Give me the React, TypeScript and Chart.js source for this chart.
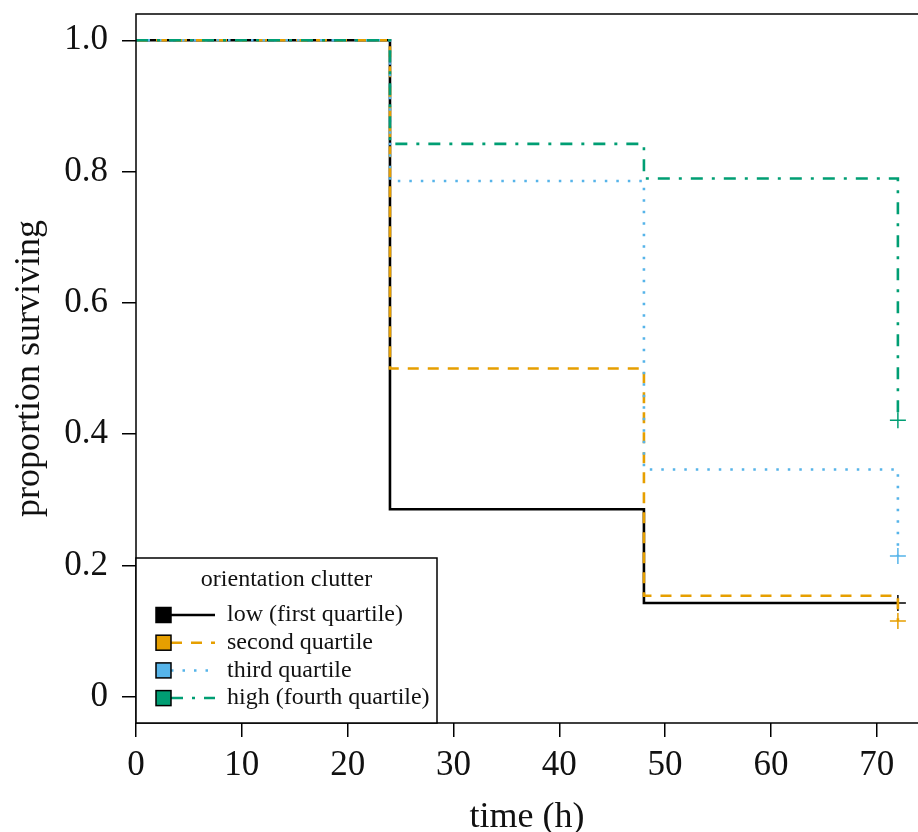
import React, { useEffect, useRef } from "react";
import { Chart, registerables } from "chart.js";

Chart.register(...registerables);

const times = [0, 24, 48, 72];
const lowValues = [1, 0.2857, 0.1429, 0.1429];
const secondValues = [1, 0.5, 0.1538, 0.1154];
const thirdValues = [1, 0.7857, 0.3462, 0.2143];
const highValues = [1, 0.8421, 0.7895, 0.4211];

const seriesLabels = [
  "low (first quartile)",
  "second quartile",
  "third quartile",
  "high (fourth quartile)",
];
const seriesColors = ["#000000", "#E69F00", "#56B4E9", "#009E73"];
const seriesDashes: number[][] = [[], [11, 9], [2.5, 9], [12, 9, 3, 9]];

const legendTitle = "orientation clutter";
const xTicks = [0, 10, 20, 30, 40, 50, 60, 70];
const yTicks = [0, 0.2, 0.4, 0.6, 0.8, 1.0];
const yTickLabels = ["0", "0.2", "0.4", "0.6", "0.8", "1.0"];
const xTitle = "time (h)";
const yTitle = "proportion surviving";

const FONT = "'Liberation Serif', 'Times New Roman', serif";

const frameAndLegend = {
  id: "frameAndLegend",
  afterDraw(chart: any) {
    const { ctx, chartArea } = chart;
    const { left, top, right, bottom } = chartArea;
    ctx.save();
    ctx.strokeStyle = "#000";
    ctx.lineWidth = 1.5;
    ctx.setLineDash([]);
    ctx.beginPath();
    ctx.moveTo(right + 2, top);
    ctx.lineTo(left, top);
    ctx.lineTo(left, bottom);
    ctx.lineTo(right + 2, bottom);
    ctx.stroke();

    // legend box
    const lx = left;
    const lw = 301;
    const lh = 165;
    const ly = bottom - lh;
    ctx.fillStyle = "#fff";
    ctx.fillRect(lx, ly, lw, lh);
    ctx.strokeRect(lx, ly, lw, lh);

    ctx.fillStyle = "#111";
    ctx.font = `24px ${FONT}`;
    ctx.textBaseline = "middle";
    ctx.textAlign = "center";
    ctx.fillText(legendTitle, lx + lw / 2, ly + 22);

    const datasets = chart.data.datasets;
    datasets.forEach((ds: any, i: number) => {
      const cy = ly + 57 + i * 27.7;
      const sx = lx + 20;
      ctx.strokeStyle = ds.borderColor;
      ctx.lineWidth = 2.5;
      ctx.setLineDash(ds.borderDash || []);
      ctx.beginPath();
      ctx.moveTo(sx + 15, cy);
      ctx.lineTo(sx + 59, cy);
      ctx.stroke();
      ctx.setLineDash([]);
      ctx.fillStyle = ds.borderColor;
      ctx.fillRect(sx, cy - 7.5, 15, 15);
      ctx.strokeStyle = "#000";
      ctx.lineWidth = 1.5;
      ctx.strokeRect(sx, cy - 7.5, 15, 15);
      ctx.fillStyle = "#111";
      ctx.textAlign = "left";
      ctx.fillText(ds.label, lx + 91, cy);
    });
    ctx.restore();
  },
};

export default function App() {
  const canvasRef = useRef<HTMLCanvasElement | null>(null);

  useEffect(() => {
    if (!canvasRef.current) return;
    const allValues = [lowValues, secondValues, thirdValues, highValues];
    const datasets = allValues.map((vals, i) => ({
      label: seriesLabels[i],
      data: times.map((t, j) => ({ x: t, y: vals[j] })),
      borderColor: seriesColors[i],
      backgroundColor: seriesColors[i],
      borderDash: seriesDashes[i],
      borderWidth: 2.6,
      stepped: "before" as const,
      fill: false,
      pointStyle: "cross" as const,
      pointRadius: times.map((_, j) => (j === times.length - 1 ? 8 : 0)),
      pointBorderWidth: 1.5,
      pointBorderColor: seriesColors[i],
      pointHitRadius: 0,
      order: allValues.length - 1 - i,
    }));

    const chart = new Chart(canvasRef.current, {
      type: "line",
      data: { datasets },
      options: {
        animation: false,
        responsive: false,
        devicePixelRatio: 1,
        layout: { autoPadding: false, padding: { top: 14, left: 0, right: 0, bottom: 0 } },
        plugins: {
          legend: { display: false },
          tooltip: { enabled: false },
        },
        scales: {
          x: {
            type: "linear",
            min: 0,
            max: 73.9,
            afterBuildTicks: (scale: any) => {
              scale.ticks = xTicks.map((v) => ({ value: v }));
            },
            afterFit: (scale: any) => {
              scale.height = 109;
              scale.paddingLeft = 0;
              scale.paddingRight = 0;
              scale.paddingTop = 0;
              scale.paddingBottom = 0;
            },
            ticks: {
              color: "#111",
              font: { family: FONT, size: 35 },
              padding: 8,
              maxRotation: 0,
              autoSkip: false,
              callback: (v: any) => String(v),
            },
            grid: {
              display: true,
              drawOnChartArea: false,
              drawTicks: true,
              tickLength: 14,
              color: "#000",
              lineWidth: 1.5,
            },
            border: { display: false },
            title: {
              display: true,
              text: xTitle,
              color: "#111",
              font: { family: FONT, size: 36, lineHeight: 0.8 },
              padding: { top: 0, bottom: 0 },
            },
          },
          y: {
            type: "linear",
            min: -0.04,
            max: 1.04,
            afterBuildTicks: (scale: any) => {
              scale.ticks = yTicks.map((v) => ({ value: v }));
            },
            afterFit: (scale: any) => {
              scale.width = 136;
              scale.paddingLeft = 0;
              scale.paddingRight = 0;
              scale.paddingTop = 0;
              scale.paddingBottom = 0;
            },
            ticks: {
              color: "#111",
              font: { family: FONT, size: 35 },
              padding: 14,
              autoSkip: false,
              callback: (v: any) => {
                const idx = yTicks.findIndex((t) => Math.abs(t - v) < 1e-6);
                return idx >= 0 ? yTickLabels[idx] : "";
              },
            },
            grid: {
              display: true,
              drawOnChartArea: false,
              drawTicks: true,
              tickLength: 14,
              color: "#000",
              lineWidth: 1.5,
            },
            border: { display: false },
            title: {
              display: true,
              text: yTitle,
              color: "#111",
              font: { family: FONT, size: 36, lineHeight: 1.2 },
              padding: { top: 8, bottom: 0 },
            },
          },
        },
      },
      plugins: [frameAndLegend],
    });
    return () => chart.destroy();
  }, []);

  return (
    <div style={{ position: "absolute", left: 0, top: 0, width: 918, height: 832, background: "#fff" }}>
      <canvas ref={canvasRef} width={918} height={832} style={{ width: 918, height: 832 }} />
    </div>
  );
}
